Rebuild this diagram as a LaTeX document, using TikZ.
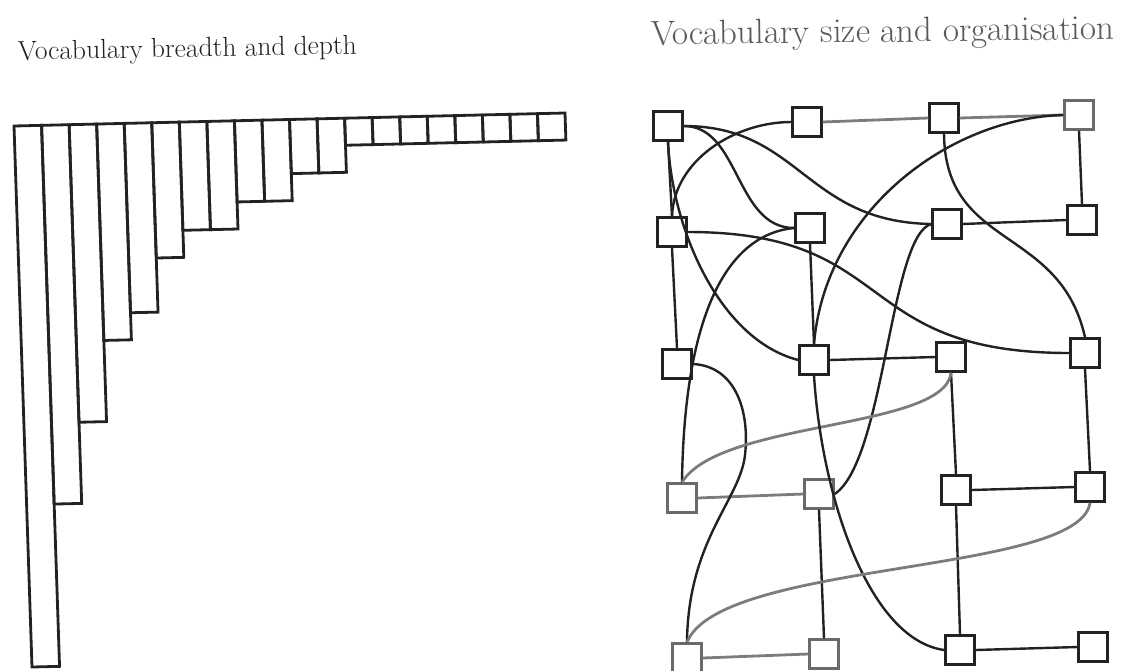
\documentclass[tikz,border=0pt]{standalone}
\usepackage{tikz}
\definecolor{ink}{HTML}{222222}
\definecolor{faint}{HTML}{7C7C7C}
\tikzset{
  heading/.style={anchor=base west,inner sep=0pt,text=ink},
  bar/.style={draw=ink,line width=2.8pt,line join=miter},
  word/.style={draw=ink,line width=2.4pt,minimum size=29pt,inner sep=0pt},
  fadedword/.style={word,draw=faint!80!ink},
  link/.style={draw=ink,line width=2.4pt},
  fadedlink/.style={draw=faint,line width=2.8pt}
}

\begin{document}
\begin{tikzpicture}[x=1pt,y=-1pt]
  \useasboundingbox (0,0) rectangle (1121,670);
  \node[heading,font=\fontsize{27.5}{33}\selectfont,rotate=1] (breadth) at (18,60) {Vocabulary breadth and depth};
  \node[heading,font=\fontsize{35}{42}\selectfont,text=ink!75,rotate=0.7] (size) at (651,45) {Vocabulary size and organisation};

  % breadth and depth: one bar per word, depth in bar widths
  \begin{scope}[shift={(14,126)},x={(27.55pt,0.65pt)},y={(0.9pt,-27.05pt)}]
    \foreach \h [count=\i from 0] in {20,14,11,8,7,5,4,4,3,3,2,2,1,1,1,1,1,1,1,1}
      \draw[bar] (\i,0) -- (\i,\h) -- (\i+1,\h) -- (\i+1,0) -- cycle;
  \end{scope}

  % size and organisation
  \node[word] (A1) at (668,126) {};
  \node[word] (A2) at (807,122) {};
  \node[word] (A3) at (944,118) {};
  \node[fadedword] (A4) at (1079,115) {};
  \node[word] (B1) at (672,232) {};
  \node[word] (B2) at (810,228) {};
  \node[word] (B3) at (947,224) {};
  \node[word] (B4) at (1082,220) {};
  \node[word] (C1) at (677,364) {};
  \node[word] (C2) at (814,360) {};
  \node[word] (C3) at (951,357) {};
  \node[word] (C4) at (1085,353) {};
  \node[fadedword] (D1) at (682,498) {};
  \node[fadedword] (D2) at (819,494) {};
  \node[word] (D3) at (956,490) {};
  \node[word] (D4) at (1090,487) {};
  \node[fadedword] (E1) at (687,658) {};
  \node[fadedword] (E2) at (824,654) {};
  \node[word] (E3) at (960,650) {};
  \node[word] (E4) at (1093,647) {};

  \draw[link] (A1.south) -- (B1.north);
  \draw[fadedlink] (A2.east) -- (A3.west);
  \draw[fadedlink] (A3.east) -- (A4.west);
  \draw[link] (A4.south) -- (B4.north);
  \draw[link] (B3.east) -- (B4.west);
  \draw[link] (B1.south) -- (C1.north);
  \draw[link] (B2.south) -- (C2.north);
  \draw[link] (C2.east) -- (C3.west);
  \draw[link] (C3.south) -- (D3.north);
  \draw[link] (C4.south) -- (D4.north);
  \draw[fadedlink] (D1.east) -- (D2.west);
  \draw[link] (D3.east) -- (D4.west);
  \draw[link] (D2.south) -- (E2.north);
  \draw[link] (D3.south) -- (E3.north);
  \draw[fadedlink] (E1.east) -- (E2.west);
  \draw[link] (E3.east) -- (E4.west);

  \draw[link] (A1.south) .. controls (672,230) and (720,340) .. (C2.west);
  \draw[link] (A1.east) .. controls (740,126) and (735,228) .. (B2.west);
  \draw[link] (A1.east) .. controls (800,126) and (805,222) .. (B3.west);
  \draw[link] (A2.west) .. controls (735,122) and (674,160) .. (B1.north);
  \draw[link] (A3.south) .. controls (945,250) and (1060,225) .. (C4.north);
  \draw[link] (A4.west) .. controls (950,118) and (825,210) .. (C2.north);
  \draw[link] (B1.east) .. controls (900,232) and (850,353) .. (C4.west);
  \draw[link] (B2.west) .. controls (720,235) and (684,330) .. (D1.north);
  \draw[link] (B3.west) .. controls (890,235) and (885,460) .. (D2.east);
  \draw[link] (C1.east) .. controls (735,366) and (750,410) .. (745,455)
    .. controls (740,500) and (688,540) .. (E1.north);
  \draw[fadedlink] (C3.south) .. controls (945,430) and (720,420) .. (D1.north);
  \draw[link] (C2.south) .. controls (822,500) and (870,640) .. (E3.west);
  \draw[fadedlink] (D4.south) .. controls (1080,575) and (720,560) .. (E1.north);
\end{tikzpicture}
\end{document}
